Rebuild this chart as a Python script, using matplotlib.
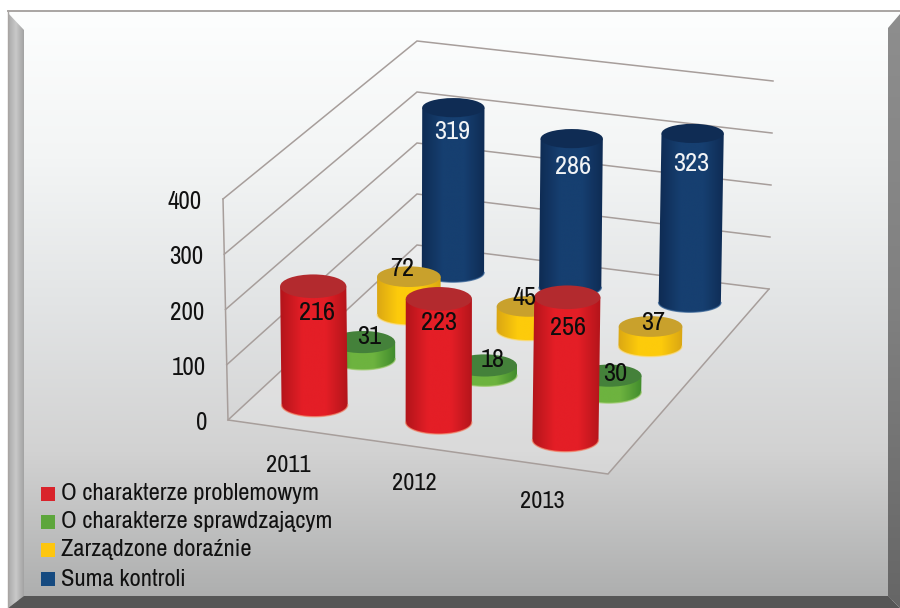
#!/usr/bin/env python3
"""Cylinder chart of controls per year, drawn in 2D through a small perspective helper."""

import matplotlib
matplotlib.use("Agg")
import matplotlib.pyplot as plt
import numpy as np
from matplotlib.colors import LinearSegmentedColormap
from matplotlib.patches import Ellipse, Polygon, Rectangle

years = ["2011", "2012", "2013"]
series_names = [
    "O charakterze problemowym",
    "O charakterze sprawdzającym",
    "Zarządzone doraźnie",
    "Suma kontroli",
]
problemowe = [216, 223, 256]
sprawdzajace = [31, 18, 30]
dorazne = [72, 45, 37]
suma = [319, 286, 323]
y_ticks = [0, 100, 200, 300, 400]

all_series = [problemowe, sprawdzajace, dorazne, suma]

# edge, body, top, legend, base rim
series_colors = [
    ("#b0141a", "#e41e26", "#b32a2e", "#d9232b", "#f28a6c"),
    ("#3f8a2c", "#6db33f", "#44813a", "#5da63c", "#9ccb6a"),
    ("#d9a514", "#fdcb0b", "#c9a12c", "#fdc60f", "#fbdc80"),
    ("#0e2a52", "#163f70", "#0f2c54", "#154a80", "#2b5a90"),
]

# label nudges from the cylinder top, per series then year
label_dx = [[4, 0, 1], [6, 8, 6], [-7, -4, 3], [-1, 1, -1]]
label_dy = [[26, 24, 30], [-6, -6, -2], [-8, -9, -4], [24, 28, 30]]

FONT = ["Archivo Narrow", "Barlow Semi Condensed", "Liberation Sans", "DejaVu Sans"]
Z_MAX = 400.0

# chart box corners in picture pixels: front-left, front-right, back-right, back-left
FLOOR = [(228, 420), (608, 474), (769, 289), (417, 245)]
CEILING = [(223, 199), (612, 248), (773, 81), (417, 41)]


def _homography(corners):
    unit = [(0, 0), (1, 0), (1, 1), (0, 1)]
    a, b = [], []
    for (u, v), (x, y) in zip(unit, corners):
        a.append([u, v, 1, 0, 0, 0, -u * x, -v * x])
        a.append([0, 0, 0, u, v, 1, -u * y, -v * y])
        b.extend([x, y])
    return np.append(np.linalg.solve(np.array(a, float), np.array(b, float)), 1).reshape(3, 3)


H_FLOOR = _homography(FLOOR)
H_CEILING = _homography(CEILING)


def project(u, v, z):
    """Map box position (u across, v into depth, z value) to picture pixels."""
    p = np.array([u, v, 1.0])
    f = H_FLOOR @ p
    c = H_CEILING @ p
    f = f[:2] / f[2]
    c = c[:2] / c[2]
    return f + (c - f) * (z / Z_MAX)


def _gradient(ax, stops, extent, horizontal=False, clip=None, zorder=1):
    cmap = LinearSegmentedColormap.from_list("g", stops)
    ramp = np.linspace(0, 1, 256)
    ramp = ramp[None, :] if horizontal else ramp[:, None]
    im = ax.imshow(ramp, cmap=cmap, extent=extent, aspect="auto", zorder=zorder,
                   interpolation="bilinear", origin="upper")
    if clip is not None:
        im.set_clip_path(clip)
    return im


def draw_cylinder(ax, u, v, value, colors, zorder):
    edge, body, top_col, _, rim = colors
    base = project(u, v, 0)
    top = project(u, v, value)
    rx = 33.4 - 2.6 * v
    ry = 12.2 - 3.0 * v

    t = np.linspace(np.pi, 0, 60)
    lower = np.column_stack([base[0] + rx * np.cos(t), base[1] + ry * np.sin(t)])
    verts = np.vstack([[top[0] - rx, top[1]], lower, [top[0] + rx, top[1]], [top[0] - rx, top[1]]])
    patch = Polygon(verts, closed=True, facecolor="none", edgecolor="none", zorder=zorder)
    ax.add_patch(patch)

    x0, x1 = min(base[0], top[0]) - rx - 1, max(base[0], top[0]) + rx + 1
    _gradient(ax, [edge, body, body, edge], (x0, x1, base[1] + ry + 1, top[1]),
              horizontal=True, clip=patch, zorder=zorder)

    ax.plot(lower[:, 0], lower[:, 1], color=rim, lw=1.0, alpha=0.7, zorder=zorder + 0.1)
    ax.add_patch(Ellipse(top, 2 * rx, 2 * ry, facecolor=top_col, edgecolor="none", zorder=zorder + 0.2))


fig = plt.figure(figsize=(9, 6.08), dpi=100)
ax = fig.add_axes([0, 0, 1, 1])
ax.set_xlim(0, 900)
ax.set_ylim(608, 0)
ax.axis("off")

# panel background and bevelled frame
panel = Rectangle((8, 11), 892, 597, facecolor="none", edgecolor="none")
ax.add_patch(panel)
_gradient(ax, ["#fdfefe", "#f3f5f5", "#e2e4e5", "#d2d2d2", "#adaeae"], (8, 900, 600, 11), clip=panel, zorder=0)
left_bevel = Polygon([(8, 13), (24, 30), (24, 596), (8, 608)], closed=True, facecolor="none", edgecolor="none")
ax.add_patch(left_bevel)
_gradient(ax, ["#a9a9a9", "#c9c9c9", "#a2a2a2"], (8, 24, 608, 11), horizontal=True, clip=left_bevel, zorder=0.5)
right_bevel = Polygon([(888, 28), (900, 14), (900, 608), (888, 596)], closed=True, facecolor="none", edgecolor="none")
ax.add_patch(right_bevel)
_gradient(ax, ["#8e8e8e", "#808080", "#666666"], (888, 900, 608, 11), clip=right_bevel, zorder=0.5)
ax.add_patch(Polygon([(8, 608), (24, 596), (888, 596), (900, 608)], closed=True, facecolor="#565656", edgecolor="none", zorder=0.6))
ax.plot([8, 900], [11, 11], color="#a9a5a3", lw=1.4, zorder=0.7)
ax.plot([8, 8], [11, 608], color="#a9a5a3", lw=1.0, zorder=0.7)

# floor and grid
ax.add_patch(Polygon(FLOOR, closed=True, facecolor="white", edgecolor="none", alpha=0.18, zorder=0.8))
grid_kw = dict(color="#a79e9b", lw=1.1, zorder=0.9, solid_joinstyle="miter")
for tick in y_ticks:
    pts = np.array([project(0, 0, tick), project(0, 1, tick), project(1, 1, tick)])
    ax.plot(pts[:, 0], pts[:, 1], **grid_kw)
    ax.text(pts[0, 0] - 21, pts[0, 1] + 2.5, str(tick), ha="right", va="center",
            fontsize=18, family=FONT, color="#111111", zorder=5)
edge_pts = np.array([project(0, 0, Z_MAX), project(0, 0, 0), project(1, 0, 0), project(1, 1, 0)])
ax.plot(edge_pts[:, 0], edge_pts[:, 1], **grid_kw)

# cylinders, back row first so nearer ones overlap
n_years = len(years)
n_series = len(all_series)
for j in reversed(range(n_series)):
    v = (j + 0.5) / n_series
    for i in range(n_years):
        u = (i + 0.5) / n_years
        draw_cylinder(ax, u, v, all_series[j][i], series_colors[j], zorder=2 + (n_series - j))

# value labels on top of everything
for j in range(n_series):
    v = (j + 0.5) / n_series
    for i in range(n_years):
        u = (i + 0.5) / n_years
        x, y = project(u, v, all_series[j][i])
        ax.text(x + label_dx[j][i], y + label_dy[j][i], str(all_series[j][i]), ha="center", va="center",
                fontsize=19, family=FONT, color="#f2f4f6" if j == 3 else "#0d0d0d", zorder=10)

# year labels under the front edge
for i, year in enumerate(years):
    x, y = project((i + 0.5) / n_years, 0, 0)
    ax.text(x - 1, y + 36.5, year, ha="center", va="center", fontsize=17.5, family=FONT, color="#111111", zorder=5)

# legend
legend_y = [494, 522, 550, 579]
for name, colors, ly in zip(series_names, series_colors, legend_y):
    ax.add_patch(Rectangle((41, ly - 7), 13.5, 14, facecolor=colors[3], edgecolor="none", zorder=5))
    ax.text(61, ly, name, ha="left", va="center", fontsize=17.7, family=FONT, color="#111111", zorder=5)

fig.savefig("out.png", dpi=100)
plt.close(fig)
